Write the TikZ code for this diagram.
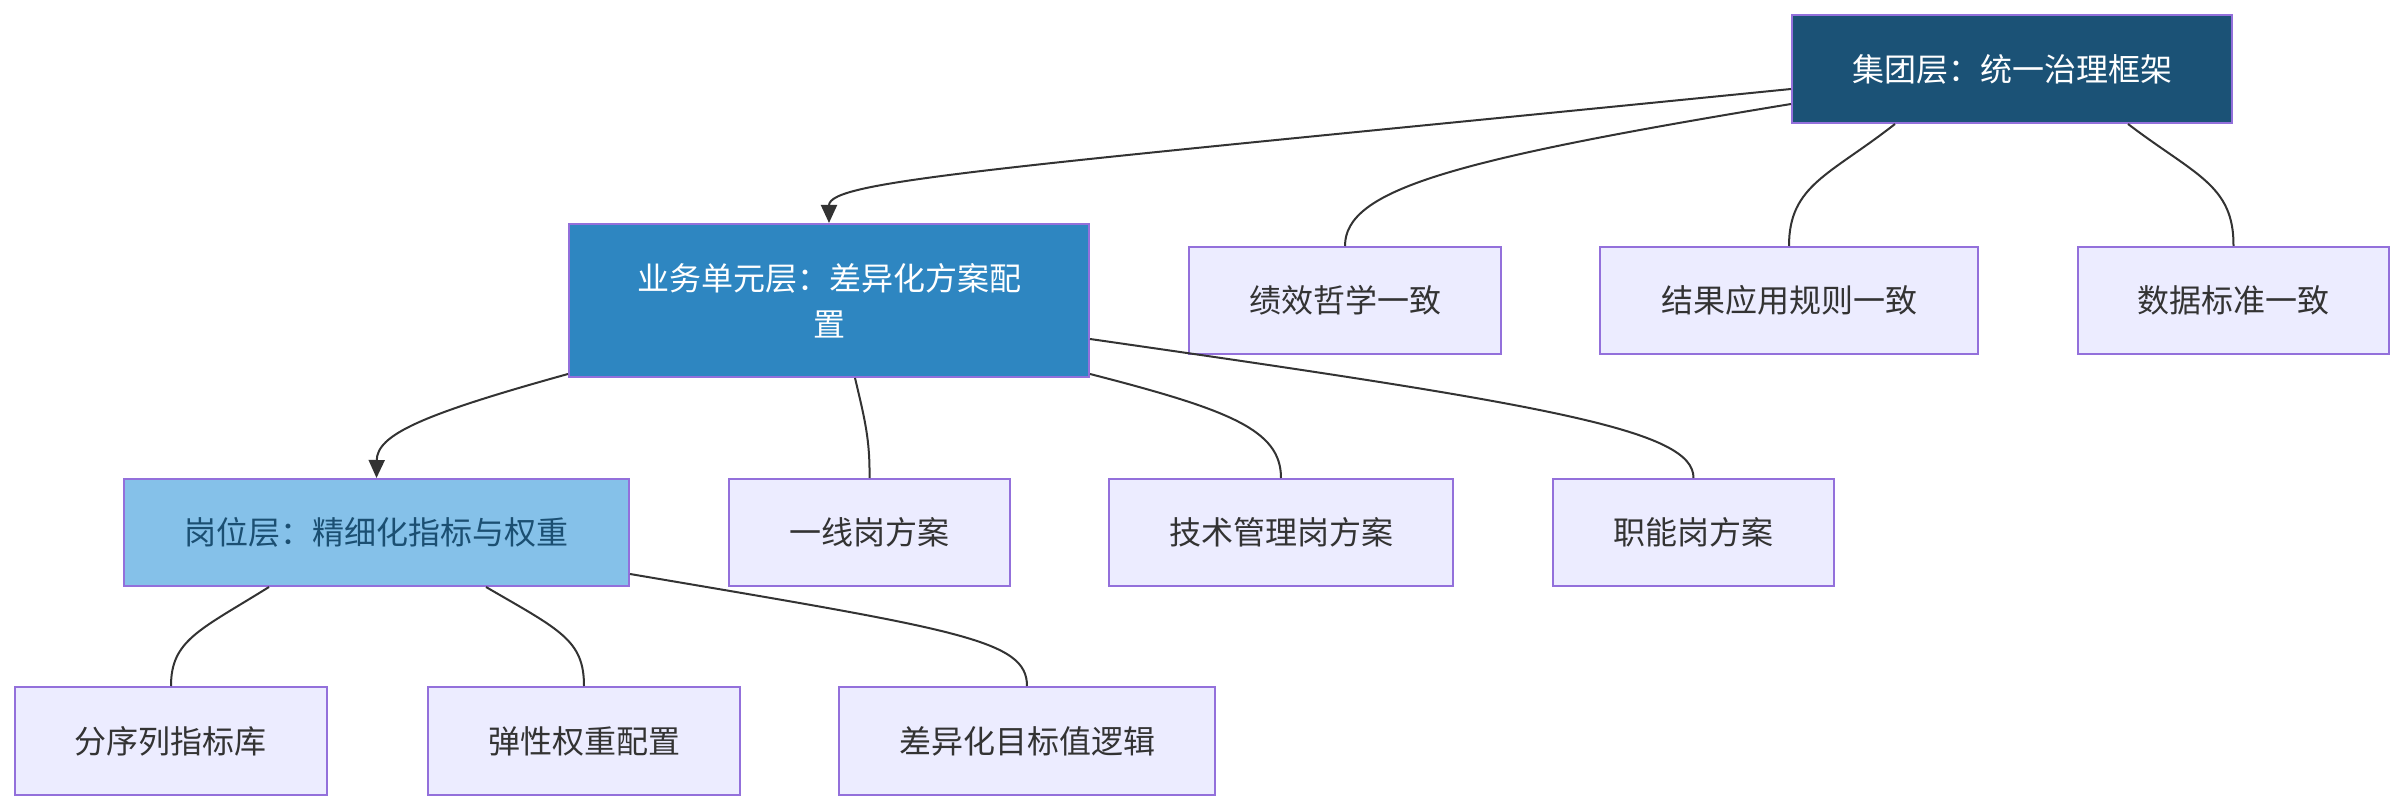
\documentclass[tikz,border=0pt]{standalone}
\usepackage{fontspec}
\newfontfamily\cjk{Noto Sans CJK SC}
\usetikzlibrary{arrows.meta}
\definecolor{edgec}{HTML}{333333}
\definecolor{bord}{HTML}{9370DB}
\definecolor{leaffill}{HTML}{ECECFF}
\definecolor{topfill}{HTML}{1B5276}
\definecolor{midfill}{HTML}{2E86C1}
\definecolor{lowfill}{HTML}{85C1E9}
\definecolor{lowtext}{HTML}{1B4F72}
\tikzset{
  box/.style={draw=bord, line width=1pt, rectangle, inner sep=0pt, align=center,
    font=\cjk\fontsize{16pt}{23pt}\selectfont},
  leaf/.style={box, fill=leaffill, text=edgec, minimum height=53.5pt},
  topbox/.style={box, fill=topfill, text=white},
  midbox/.style={box, fill=midfill, text=white},
  lowbox/.style={box, fill=lowfill, text=lowtext},
  link/.style={draw=edgec, line width=1pt},
  arrowlink/.style={link, -{Triangle[length=9pt,width=8pt]}}
}
\begin{document}
\begin{tikzpicture}[x=0.5pt,y=-0.5pt]
\useasboundingbox (0,0) rectangle (2406,812);
% nodes
\node[topbox, minimum width=220pt, minimum height=54pt] (top) at (2012,69) {集团层：统一治理框架};
\node[midbox, minimum width=260pt, minimum height=76.5pt] (ywu) at (829,300.5) {业务单元层：差异化方案配\\置};
\node[leaf, minimum width=156pt] (jx) at (1345,300.5) {绩效哲学一致};
\node[leaf, minimum width=189pt] (jg) at (1789,300.5) {结果应用规则一致};
\node[leaf, minimum width=155.5pt] (sj) at (2233.5,300.5) {数据标准一致};
\node[lowbox, minimum width=252.5pt, minimum height=53.5pt] (gw) at (376.5,532.5) {岗位层：精细化指标与权重};
\node[leaf, minimum width=140.5pt] (yx) at (869.5,532.5) {一线岗方案};
\node[leaf, minimum width=172pt] (js) at (1281,532.5) {技术管理岗方案};
\node[leaf, minimum width=140.5pt] (zn) at (1693.5,532.5) {职能岗方案};
\node[leaf, minimum width=156pt, minimum height=54pt] (fx) at (171,741) {分序列指标库};
\node[leaf, minimum width=156pt, minimum height=54pt] (tx) at (584,741) {弹性权重配置};
\node[leaf, minimum width=188pt, minimum height=54pt] (cy) at (1027,741) {差异化目标值逻辑};
% edges from top
\draw[arrowlink] ([yshift=-10pt]top.west) .. controls (1000,168) and (829,180) .. (ywu.north);
\draw[link] ([yshift=-17.5pt]top.west) .. controls (1450,160) and (1345,190) .. (jx.north);
\draw[link] ([xshift=-58.5pt]top.south) .. controls (1830,175) and (1789,185) .. (jg.north);
\draw[link] ([xshift=58pt]top.south) .. controls (2195,175) and (2234,185) .. (sj.north);
% edges from ywu
\draw[arrowlink] ([yshift=2pt]ywu.south west) .. controls (420,415) and (377,435) .. (gw.north);
\draw[link] ([xshift=13pt]ywu.south) .. controls (865,420) and (870,440) .. (yx.north);
\draw[link] ([yshift=2pt]ywu.south east) .. controls (1230,410) and (1281,430) .. (js.north);
\draw[link] ([yshift=-19.25pt]ywu.east) .. controls (1550,405) and (1694,430) .. (zn.north);
% edges from gw
\draw[link] ([xshift=-53.75pt]gw.south) .. controls (200,630) and (171,640) .. (fx.north);
\draw[link] ([xshift=54.75pt]gw.south) .. controls (560,630) and (584,640) .. (tx.north);
\draw[link] ([yshift=-20.75pt]gw.east) .. controls (960,630) and (1027,640) .. (cy.north);
\end{tikzpicture}
\end{document}
